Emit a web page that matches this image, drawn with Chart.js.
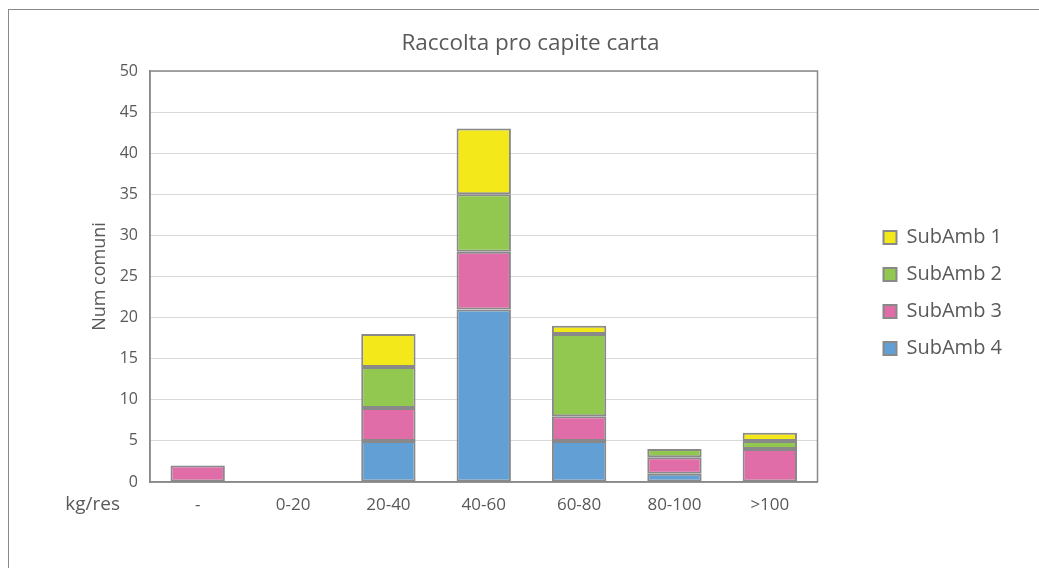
<!DOCTYPE html>
<html>
<head>
<meta charset="utf-8">
<title>Raccolta pro capite carta</title>
<script src="https://cdn.jsdelivr.net/npm/chart.js@4.4.1/dist/chart.umd.min.js"></script>
<style>
  html, body { margin: 0; padding: 0; background: #fff; overflow: hidden; }
  #frame { position: absolute; left: 8px; top: 9px; width: 1100px; height: 700px; border: 1px solid #8a8a8a; }
  #wrap { position: absolute; left: 0; top: 0; }
</style>
</head>
<body>
<div id="frame"></div>
<div id="wrap"><canvas id="chart" width="1039" height="568"></canvas></div>
<script>
const categories = ['-', '0-20', '20-40', '40-60', '60-80', '80-100', '>100']
const subAmb1 = [0, 0, 4, 8, 1, 0, 1]
const subAmb2 = [0, 0, 5, 7, 10, 1, 1]
const subAmb3 = [2, 0, 4, 7, 3, 2, 4]
const subAmb4 = [0, 0, 5, 21, 5, 1, 0]
const yMax = 50
const yStep = 5

const textColor = '#595959'
const lineColor = '#898989'

Chart.defaults.font.family = '"Open Sans", Lato, sans-serif'
Chart.defaults.color = textColor

// empty segments are left out so no border sliver is drawn
const series = (name, values, color) => ({
  label: name,
  data: values.map(v => v || null),
  backgroundColor: color,
  borderColor: lineColor,
  borderWidth: 2,
  borderSkipped: false,
  categoryPercentage: 1,
  barPercentage: 0.57
})

// outline of the plot area (top and right sides)
const plotFrame = {
  id: 'plotFrame',
  beforeDatasetsDraw (chart) {
    const { ctx, chartArea: a } = chart
    ctx.save()
    ctx.strokeStyle = lineColor
    ctx.lineWidth = 1.5
    ctx.strokeRect(a.left, a.top, a.right - a.left, a.bottom - a.top)
    ctx.restore()
  }
}

// unit caption at the start of the category label row
const unitLabel = {
  id: 'unitLabel',
  afterDraw (chart) {
    const { ctx } = chart
    const x = chart.scales.x
    ctx.save()
    ctx.font = '19px ' + Chart.defaults.font.family
    ctx.fillStyle = textColor
    ctx.textAlign = 'right'
    ctx.textBaseline = 'middle'
    ctx.fillText('kg/res', 120, x.top + 23)
    ctx.restore()
  }
}

new Chart(document.getElementById('chart'), {
  type: 'bar',
  data: {
    labels: categories,
    datasets: [
      series('SubAmb 4', subAmb4, '#619fd5'),
      series('SubAmb 3', subAmb3, '#e06ca8'),
      series('SubAmb 2', subAmb2, '#92c850'),
      series('SubAmb 1', subAmb1, '#f2e81a')
    ]
  },
  options: {
    responsive: false,
    devicePixelRatio: 1,
    animation: false,
    layout: { padding: { top: 18, left: 49, right: 27, bottom: 0 } },
    plugins: {
      title: {
        display: true,
        text: 'Raccolta pro capite carta',
        color: textColor,
        font: { size: 22.5, weight: 'normal' },
        padding: { top: 12, bottom: 14 }
      },
      legend: {
        position: 'right',
        reverse: true,
        labels: {
          boxWidth: 13,
          boxHeight: 13,
          padding: 17,
          color: textColor,
          font: { size: 20 }
        }
      },
      tooltip: { enabled: false }
    },
    scales: {
      x: {
        stacked: true,
        grid: { display: false, drawTicks: false },
        border: { color: lineColor, width: 1.5 },
        ticks: { padding: 13, font: { size: 17 }, color: textColor },
        afterFit: s => { s.height = 86 }
      },
      y: {
        stacked: true,
        min: 0,
        max: yMax,
        grid: { color: '#d9d9d9', drawTicks: false },
        border: { color: lineColor, width: 1.5 },
        ticks: { stepSize: yStep, padding: 12, font: { size: 16 }, color: textColor },
        title: {
          display: true,
          text: 'Num comuni',
          color: textColor,
          font: { size: 18 },
          padding: { top: 40, bottom: 0 }
        },
        afterFit: s => { s.width = 101 }
      },
      // spacer between the plot and the legend
      gap: {
        axis: 'y',
        type: 'linear',
        position: 'right',
        display: true,
        grid: { display: false },
        border: { display: false },
        ticks: { display: false },
        afterFit: s => { s.width = 49 }
      }
    }
  },
  plugins: [plotFrame, unitLabel]
})
</script>
</body>
</html>
